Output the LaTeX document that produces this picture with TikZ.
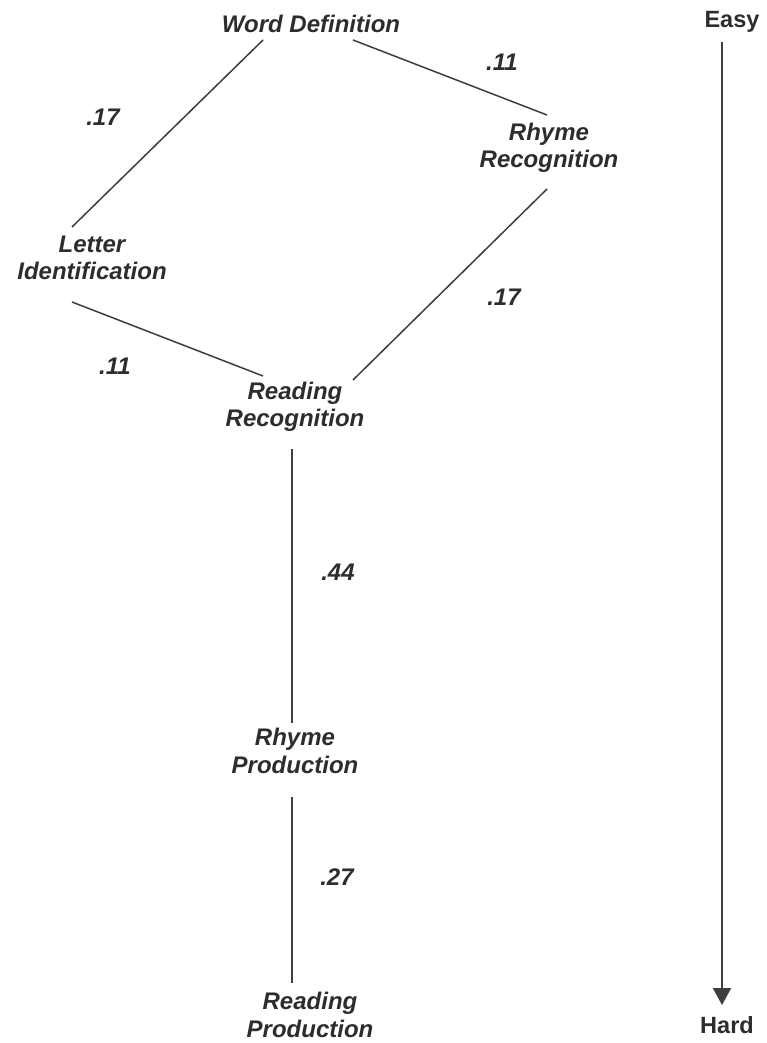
\documentclass[tikz,border=0pt]{standalone}
\usepackage{fontspec}
\setmainfont{Liberation Sans}
\usetikzlibrary{arrows.meta}
\definecolor{txtc}{RGB}{45,45,45}
\definecolor{linc}{RGB}{62,62,62}
\begin{document}
\begin{tikzpicture}[x=1pt,y=-1pt,
  lab/.style={inner sep=0pt, align=center, text=txtc,
    font=\fontsize{24}{27.5}\selectfont\bfseries\itshape},
  num/.style={inner sep=0pt, text=txtc,
    font=\fontsize{24}{27.5}\selectfont\bfseries\itshape},
  endlab/.style={inner sep=0pt, text=txtc,
    font=\fontsize{23.5}{27}\selectfont\bfseries},
  conn/.style={draw=linc, line width=1.5pt},
  diffarrow/.style={draw=linc, line width=2.2pt, -{Triangle[width=18pt,length=17pt]}}]
\useasboundingbox (0,0) rectangle (766,1043);
\fill[white] (0,0) rectangle (766,1043);

\node[lab] (wd) at (311,24) {Word Definition};
\node[lab] (rr) at (549,148) {Rhyme\\Recognition};
\node[lab] (li) at (92,258) {Letter\\Identification};
\node[lab] (rdr) at (295,407) {Reading\\Recognition};
\node[lab] (rp) at (295,751) {Rhyme\\Production};
\node[lab] (rdp) at (310,1015) {Reading\\Production};

\node[num] (n1) at (502,62) {.11};
\node[num] (n2) at (103,117) {.17};
\node[num] (n3) at (504,297) {.17};
\node[num] (n4) at (115,366) {.11};
\node[num] (n5) at (338,572) {.44};
\node[num] (n6) at (337,877) {.27};

\node[endlab] (easy) at (732,22) {Easy};
\node[endlab] (hard) at (727,1025) {Hard};

\draw[conn] ([shift={(-48,16)}]wd.center) -- ([shift={(-20,-31)}]li.center);
\draw[conn] ([shift={(42,16)}]wd.center) -- ([shift={(-2,-33)}]rr.center);
\draw[conn] ([shift={(-20,44)}]li.center) -- ([shift={(-32,-31)}]rdr.center);
\draw[conn] ([shift={(-2,41)}]rr.center) -- ([shift={(58,-27)}]rdr.center);
\draw[conn] ([shift={(-3,42)}]rdr.center) -- ([shift={(-3,-28)}]rp.center);
\draw[conn] ([shift={(-3,46)}]rp.center) -- ([shift={(-18,-32)}]rdp.center);
\draw[diffarrow] ([shift={(-10,20)}]easy.center) -- ([shift={(-5,-20)}]hard.center);
\end{tikzpicture}
\end{document}
